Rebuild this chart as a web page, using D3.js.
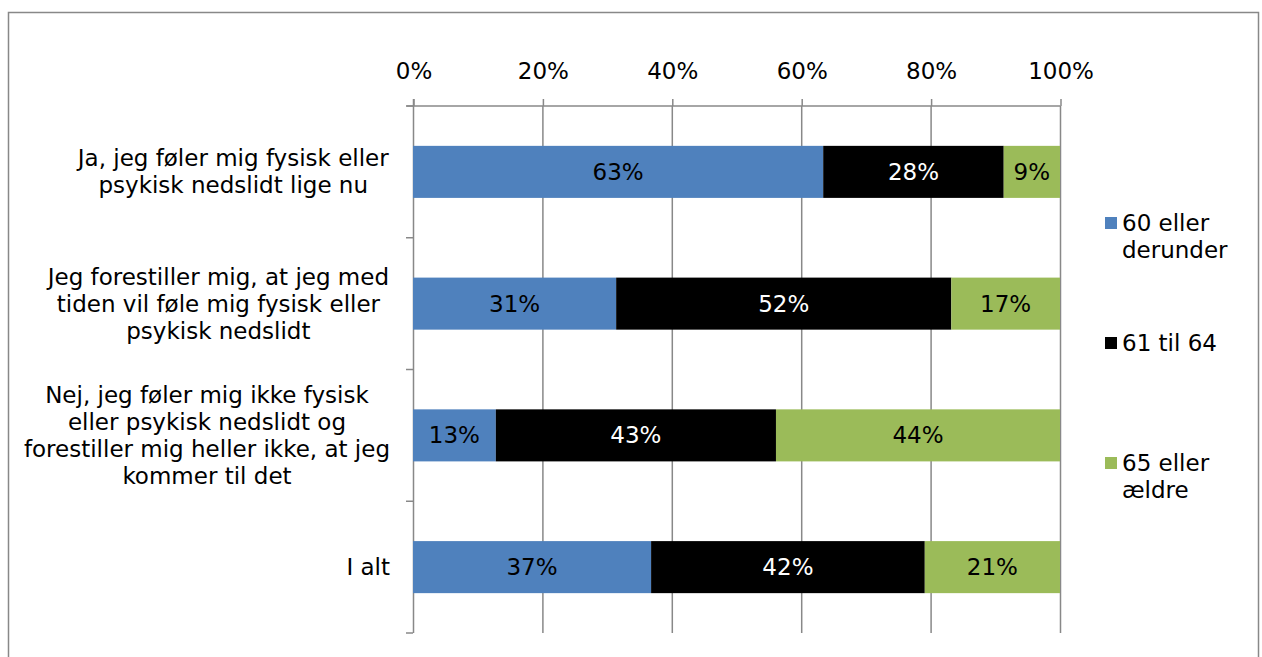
<!DOCTYPE html>
<html>
<head>
<meta charset="utf-8">
<script src="https://cdn.jsdelivr.net/npm/d3@7"></script>
<style>
  body { margin: 0; background: #fff; }
  text { font-family: "DejaVu Sans", Verdana, sans-serif; }
</style>
</head>
<body>
<svg></svg>
<script>
var width = 1262;
var height = 657;

// data
var categories = [
  ["Ja, jeg føler mig fysisk eller", "psykisk nedslidt lige nu"],
  ["Jeg forestiller mig, at jeg med", "tiden vil føle mig fysisk eller", "psykisk nedslidt"],
  ["Nej, jeg føler mig ikke fysisk", "eller psykisk nedslidt og", "forestiller mig heller ikke, at jeg", "kommer til det"],
  ["I alt"]
];
var seriesNames = ["60 eller derunder", "61 til 64", "65 eller ældre"];
var legendLines = [["60 eller", "derunder"], ["61 til 64"], ["65 eller", "ældre"]];
var young = [0.634, 0.314, 0.128, 0.368];
var middle = [0.279, 0.518, 0.433, 0.423];
var old = [0.087, 0.168, 0.439, 0.209];
var tickValues = [0, 0.2, 0.4, 0.6, 0.8, 1];

var colors = ["#4F81BD", "#000000", "#9BBB59"];
var labelColors = ["#000", "#fff", "#000"];
var fs = "23px";

var svg = d3.select("svg")
  .attr("width", width)
  .attr("height", height);

// frame
svg.append("rect")
  .attr("x", 8.5).attr("y", 12.5)
  .attr("width", 1250).attr("height", 660)
  .attr("fill", "none")
  .attr("stroke", "#888")
  .attr("stroke-width", 1.5);

var x = d3.scaleLinear().domain([0, 1]).range([413, 1060]);
var y = d3.scaleBand()
  .domain(d3.range(categories.length))
  .range([106, 633])
  .paddingInner(0.605)
  .paddingOuter(0.3025);
var step = y.step();
var top0 = 106;

// gridlines
svg.append("g").selectAll("line")
  .data(tickValues.slice(1))
  .enter().append("line")
  .attr("x1", function(d) { return x(d) + 0.5; })
  .attr("x2", function(d) { return x(d) + 0.5; })
  .attr("y1", top0).attr("y2", 633)
  .attr("stroke", "#888").attr("stroke-width", 1.5);

// top axis
var axis = svg.append("g")
  .attr("transform", "translate(0.5," + top0 + ")")
  .call(d3.axisTop(x).tickValues(tickValues).tickFormat(d3.format(".0%")).tickSize(7).tickPadding(20));
axis.select(".domain").attr("stroke", "#888").attr("stroke-width", 1.5)
  .attr("d", "M" + (x(0) - 7) + ",0H" + x(1));
axis.selectAll(".tick line").attr("stroke", "#888").attr("stroke-width", 1.5);
axis.selectAll(".tick text")
  .attr("fill", "#000")
  .style("font-size", fs)
  .style("font-family", "DejaVu Sans, Verdana, sans-serif");

// left axis
var left = svg.append("g");
left.append("line")
  .attr("x1", x(0) + 0.5).attr("x2", x(0) + 0.5)
  .attr("y1", top0 - 7).attr("y2", 633)
  .attr("stroke", "#888").attr("stroke-width", 1.5);
left.selectAll(".yt")
  .data(d3.range(categories.length + 1))
  .enter().append("line")
  .attr("x1", x(0) - 7).attr("x2", x(0))
  .attr("y1", function(i) { return top0 + i * step; })
  .attr("y2", function(i) { return top0 + i * step; })
  .attr("stroke", "#888").attr("stroke-width", 1.5);

// stacked data
var rows = categories.map(function(c, i) { return [young[i], middle[i], old[i]]; });
var fmt = d3.format(".0%");

rows.forEach(function(vals, i) {
  var acc = 0;
  var g = svg.append("g");
  vals.forEach(function(v, s) {
    var x0 = x(acc), x1 = x(acc + v);
    g.append("rect")
      .attr("x", x0).attr("y", y(i))
      .attr("width", x1 - x0).attr("height", y.bandwidth())
      .attr("fill", colors[s]);
    g.append("text")
      .attr("x", (x0 + x1) / 2)
      .attr("y", y(i) + y.bandwidth() / 2)
      .attr("dy", "0.35em")
      .attr("text-anchor", "middle")
      .attr("fill", labelColors[s])
      .style("font-size", fs)
      .text(fmt(v));
    acc += v;
  });
});

// category labels
var lineH = 27;
categories.forEach(function(lines, i) {
  var t = svg.append("text")
    .attr("text-anchor", "middle")
    .style("font-size", fs)
    .attr("fill", "#000");
  var cy = y(i) + y.bandwidth() / 2;
  var startY = cy - (lines.length - 1) * lineH / 2;
  lines.forEach(function(l, k) {
    t.append("tspan").attr("x", 0).attr("y", startY + k * lineH).attr("dy", "0.35em").text(l);
  });
  var w = t.node().getBBox().width;
  t.selectAll("tspan").attr("x", 390 - w / 2);
});

// legend
var legendY = [223, 343, 463];
legendLines.forEach(function(lines, i) {
  svg.append("rect")
    .attr("x", 1105).attr("y", legendY[i] - 6)
    .attr("width", 12).attr("height", 12)
    .attr("fill", colors[i]);
  var t = svg.append("text").style("font-size", fs).attr("fill", "#000");
  lines.forEach(function(l, k) {
    t.append("tspan").attr("x", 1122).attr("y", legendY[i] + k * 27).attr("dy", "0.35em").text(l);
  });
});
</script>
</body>
</html>
